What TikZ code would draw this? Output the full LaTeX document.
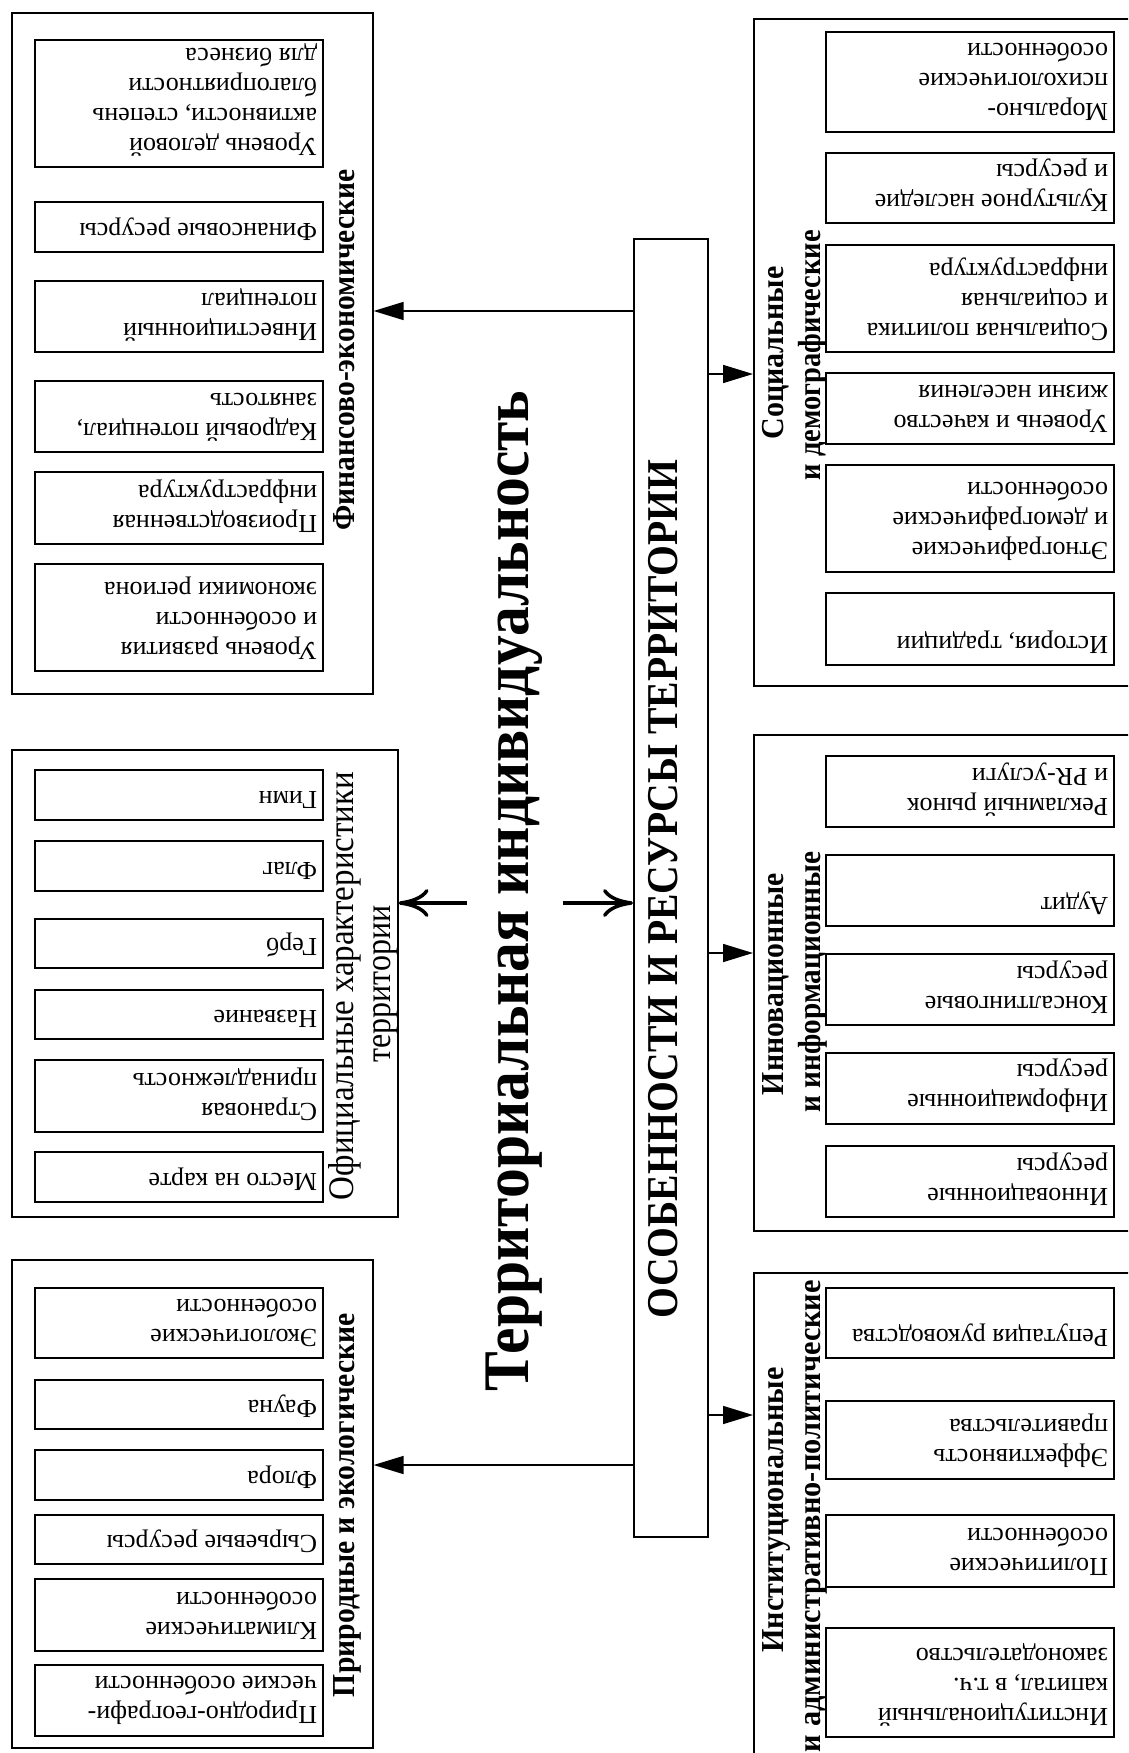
\documentclass[tikz,border=0pt]{standalone}
\usepackage{fontspec}
\setmainfont{Liberation Serif}
\usepackage{graphicx}
\usetikzlibrary{arrows.meta}
\newcommand\ibx[6]{%
  \pgfmathsetmacro\ibW{#3-#2-12}%
  \pgfmathsetmacro\ibH{#5-#4-22}%
  \node[ibox] (#1) at ({(#2+#3)/2},{(#4+#5)/2}) {\parbox[c][\ibH pt][t]{\ibW pt}{\raggedright #6}};%
}
\newcommand\fitw[2]{\resizebox{#1pt}{\height}{#2}}
\begin{document}
\begin{tikzpicture}[x=1pt,y=-1pt,
  ibox/.style={draw, line width=1.6pt, rotate=180, inner xsep=6pt, inner ysep=11pt,
    font=\fontsize{26}{30}\selectfont},
  obox/.style={draw, line width=1.6pt, anchor=north west, inner sep=0pt},
  ttl/.style={rotate=90, anchor=base, inner sep=0pt, font=\bfseries\fontsize{32}{32}\selectfont},
  ttlr/.style={rotate=90, anchor=base, inner sep=0pt, font=\fontsize{36}{36}\selectfont},
  farrow/.style={line width=1.6pt, -{Triangle[length=30pt,width=18pt]}},
  oarrow/.style={line width=3.5pt, -{Computer Modern Rightarrow[length=30pt,width=28pt]}}]
\useasboundingbox (0,0) rectangle (1128,1753);
\clip (0,0) rectangle (1128,1753);

% outer boxes
\node[obox, minimum width=361pt, minimum height=681pt] (A) at (11,12) {};
\node[obox, minimum width=386pt, minimum height=467pt] (B) at (11,749) {};
\node[obox, minimum width=361pt, minimum height=488pt] (C) at (11,1259) {};
\node[obox, minimum width=420pt, minimum height=667pt] (D) at (753,18) {};
\node[obox, minimum width=420pt, minimum height=496pt] (E) at (753,734) {};
\node[obox, minimum width=420pt, minimum height=520pt] (F) at (753,1272) {};
\node[obox, minimum width=74pt, minimum height=1298pt] (cen) at (633,238) {};

% central texts
\node[rotate=90, anchor=base, inner sep=0pt, font=\bfseries\fontsize{65}{65}\selectfont]
  (main) at (528,891) {\fitw{1001}{Территориальная индивидуальность}};
\node[rotate=90, anchor=base, inner sep=0pt, font=\bfseries\fontsize{44}{44}\selectfont]
  (centxt) at (677,889) {\fitw{858}{ОСОБЕННОСТИ И РЕСУРСЫ ТЕРРИТОРИИ}};

% group titles
\node[ttl] (tA) at (354,350) {\fitw{361}{Финансово-экономические}};
\node[ttlr] (tB1) at (353,986) {\fitw{428}{Официальные характеристики}};
\node[ttlr] (tB2) at (390,984) {\fitw{157}{территории}};
\node[ttl] (tC) at (354,1505) {\fitw{384}{Природные и экологические}};
\node[ttl] (tD1) at (783,353) {\fitw{173}{Социальные}};
\node[ttl] (tD2) at (820,355) {\fitw{250}{и демографические}};
\node[ttl] (tE1) at (783,984) {\fitw{222}{Инновационные}};
\node[ttl] (tE2) at (820,982) {\fitw{261}{и информационные}};
\node[ttl] (tF1) at (783,1510) {\fitw{285}{Институциональные}};
\node[ttl] (tF2) at (820,1516) {\fitw{472}{и административно-политические}};

% inner boxes, left column
\ibx{a1}{35}{323}{40}{167}{Уровень деловой\\активности, степень\\благоприятности\\для бизнеса}
\ibx{a2}{35}{323}{202}{252}{Финансовые ресурсы}
\ibx{a3}{35}{323}{281}{352}{Инвестиционный\\потенциал}
\ibx{a4}{35}{323}{381}{452}{Кадровый потенциал,\\занятость}
\ibx{a5}{35}{323}{472}{544}{Производственная\\инфраструктура}
\ibx{a6}{35}{323}{564}{671}{Уровень развития\\и особенности\\экономики региона}

\ibx{b1}{35}{323}{770}{820}{Гимн}
\ibx{b2}{35}{323}{841}{891}{Флаг}
\ibx{b3}{35}{323}{919}{968}{Герб}
\ibx{b4}{35}{323}{990}{1039}{Название}
\ibx{b5}{35}{323}{1060}{1132}{Страновая\\принадлежность}
\ibx{b6}{35}{323}{1152}{1202}{Место на карте}

\ibx{c1}{35}{323}{1288}{1358}{Экологические\\особенности}
\ibx{c2}{35}{323}{1380}{1429}{Фауна}
\ibx{c3}{35}{323}{1450}{1500}{Флора}
\ibx{c4}{35}{323}{1515}{1564}{Сырьевые ресурсы}
\ibx{c5}{35}{323}{1579}{1651}{Климатические\\особенности}
\ibx{c6}{35}{323}{1665}{1736}{Природно-географи-\\ческие особенности}

% inner boxes, right column
\ibx{d1}{826}{1114}{32}{132}{Морально-\\психологические\\особенности}
\ibx{d2}{826}{1114}{153}{223}{Культурное наследие\\и ресурсы}
\ibx{d3}{826}{1114}{245}{352}{Социальная политика\\и социальная\\инфраструктура}
\ibx{d4}{826}{1114}{373}{444}{Уровень и качество\\жизни населения}
\ibx{d5}{826}{1114}{465}{572}{Этнографические\\и демографические\\особенности}
\ibx{d6}{826}{1114}{593}{665}{История, традиции}

\ibx{e1}{826}{1114}{756}{827}{Рекламный рынок\\и PR-услуги}
\ibx{e2}{826}{1114}{855}{926}{Аудит}
\ibx{e3}{826}{1114}{954}{1025}{Консалтинговые\\ресурсы}
\ibx{e4}{826}{1114}{1053}{1124}{Информационные\\ресурсы}
\ibx{e5}{826}{1114}{1146}{1217}{Инновационные\\ресурсы}

\ibx{f1}{826}{1114}{1288}{1358}{Репутация руководства}
\ibx{f2}{826}{1114}{1401}{1479}{Эффективность\\правительства}
\ibx{f3}{826}{1114}{1515}{1587}{Политические\\особенности}
\ibx{f4}{826}{1114}{1628}{1737}{Институциональный\\капитал, в т.ч.\\законодательство}

% connectors
\draw[farrow] (cen.west |- 0,311) -- (A.east |- 0,311);
\draw[farrow] (cen.west |- 0,1465) -- (C.east |- 0,1465);
\draw[farrow] (cen.east |- 0,374) -- (D.west |- 0,374);
\draw[farrow] (cen.east |- 0,953) -- (E.west |- 0,953);
\draw[farrow] (cen.east |- 0,1415) -- (F.west |- 0,1415);
\coordinate (oa1) at (467,903);
\coordinate (oa2) at (563,903);
\draw[oarrow] (oa1) -- (B.east |- oa1);
\draw[oarrow] (oa2) -- (cen.west |- oa2);
\end{tikzpicture}
\end{document}
